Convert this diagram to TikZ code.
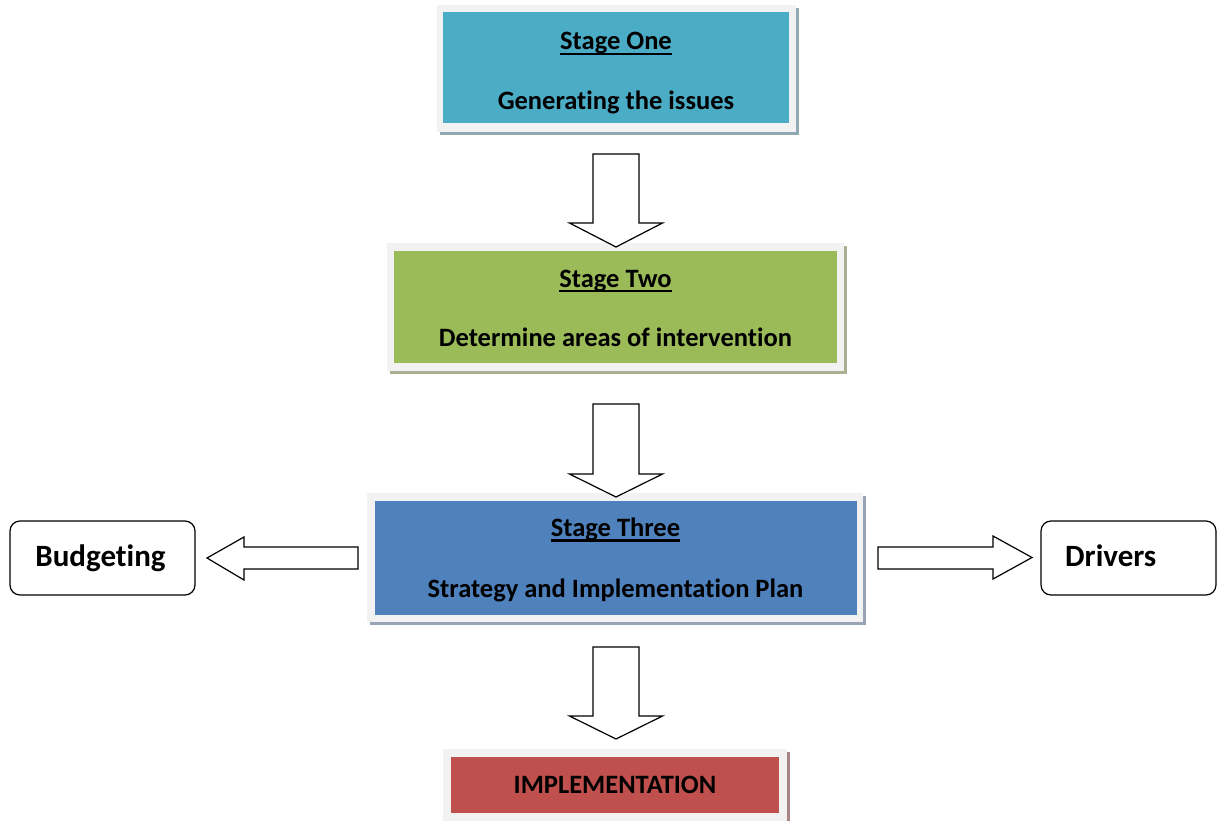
\documentclass[tikz,border=0pt]{standalone}
\usepackage{fontspec}
\setmainfont{Carlito}[Ligatures=NoCommon]
\newcommand\myul[1]{\setbox0\hbox{#1}\rlap{\rule[-5pt]{\wd0}{2.4pt}}\box0}
\definecolor{framec}{HTML}{F2F2F2}
\definecolor{c1}{HTML}{4BACC6}
\definecolor{c2}{HTML}{9BBB59}
\definecolor{c3}{HTML}{4F81BD}
\definecolor{c4}{HTML}{C0504D}
\definecolor{sh1}{HTML}{93A9B2}
\definecolor{sh2}{HTML}{A9B192}
\definecolor{sh3}{HTML}{98A3B6}
\definecolor{sh4}{HTML}{A88584}
\tikzset{
  frame/.style={fill=framec, inner sep=0pt},
  stagebox/.style={inner sep=0pt},
  stagetext/.style={inner sep=0pt, anchor=base, font=\fontsize{26.5}{30}\selectfont\bfseries},
  sidebox/.style={draw, line width=1.2pt, rounded corners=10pt, inner sep=0pt, minimum width=#1, minimum height=74pt},
  sidetext/.style={inner sep=0pt, anchor=base, font=\fontsize{31}{36}\selectfont\bfseries},
  blockarrow/.style={draw, line width=1.2pt, fill=white, line join=miter}
}
\begin{document}
\begin{tikzpicture}[x=1pt,y=-1pt]
\useasboundingbox (0,0) rectangle (1217,821);
% shadows
\fill[sh1] (440,8) rectangle (799,135);
\fill[sh2] (390,246) rectangle (847,374);
\fill[sh3] (370,496) rectangle (866,625);
\fill[sh4] (446,752) rectangle (790,830);
% frames
\node[frame, minimum width=359pt, minimum height=127pt] (f1) at (616.5,68.5) {};
\node[frame, minimum width=457pt, minimum height=128pt] (f2) at (615.5,307) {};
\node[frame, minimum width=496pt, minimum height=129pt] (f3) at (615,557.5) {};
\node[frame, minimum width=344pt, minimum height=72pt] (f4) at (615,785) {};
% stage boxes
\node[stagebox, fill=c1, minimum width=346pt, minimum height=111pt] (s1) at (616,67.5) {};
\node[stagebox, fill=c2, minimum width=443pt, minimum height=112pt] (s2) at (615.5,307) {};
\node[stagebox, fill=c3, minimum width=482pt, minimum height=114pt] (s3) at (616,558) {};
\node[stagebox, fill=c4, minimum width=328pt, minimum height=56pt] (s4) at (615,785) {};
% stage texts
\node[stagetext] (t1a) at (616,50) {\myul{Stage One}};
\node[stagetext] (t1b) at (616,109.5) {Generating the issues};
\node[stagetext] (t2a) at (615.5,287) {\myul{Stage Two}};
\node[stagetext] (t2b) at (615.5,346.5) {Determine areas of intervention};
\node[stagetext] (t3a) at (615.5,536.5) {\myul{Stage Three}};
\node[stagetext] (t3b) at (615.5,597) {Strategy and Implementation Plan};
\node[stagetext] (t4) at (615,793) {IMPLEMENTATION};
% side boxes
\node[sidebox=185pt] (bud) at (102.5,558) {};
\node[sidetext] (budt) at (100.5,566) {Budgeting};
\node[sidebox=175pt] (drv) at (1128.5,558) {};
\node[sidetext, anchor=base west] (drvt) at (1065,566) {Drivers};
% block arrows
\foreach \t/\b/\p in {154/223/247, 404/474/497, 647/716/739}{
  \draw[blockarrow] (593,\t) -- (639,\t) -- (639,\b) -- (662.5,\b) -- (616,\p) -- (569.5,\b) -- (593,\b) -- cycle;
}
\draw[blockarrow] (358,547) -- (244,547) -- (244,537) -- (207,558) -- (244,580) -- (244,569) -- (358,569) -- cycle;
\draw[blockarrow] (878,547) -- (993,547) -- (993,536) -- (1032,557.5) -- (993,579) -- (993,569) -- (878,569) -- cycle;
\end{tikzpicture}
\end{document}
